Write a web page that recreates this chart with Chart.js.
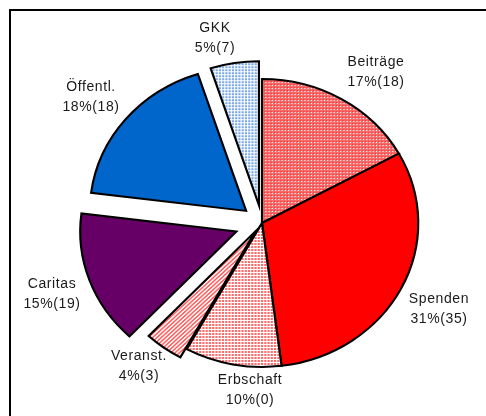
<!DOCTYPE html>
<html>
<head>
<meta charset="utf-8">
<script src="https://cdn.jsdelivr.net/npm/chart.js@4/dist/chart.umd.min.js"></script>
<style>
  html, body { margin: 0; padding: 0; background: #fff; }
  #wrap { width: 486px; height: 416px; position: relative; }
</style>
</head>
<body>
<div id="wrap"><canvas id="c" width="486" height="416"></canvas></div>
<script>
// ---- data ----
const categories = ['Beiträge', 'Spenden', 'Erbschaft', 'Veranst.', 'Caritas', 'Öffentl.', 'GKK'];
const percents   = [17, 31, 10, 4, 15, 18, 5];
const counts     = [18, 35, 0, 3, 19, 18, 7];

// ---- styling ----
const explode = [0, 0, 0, 10, 25, 19, 18];
const labelPos = [
  [376, 62], [439, 299], [250, 380], [139, 356], [52, 284], [91, 87], [215, 28]
];

function makePattern(size, drawFn) {
  const c = document.createElement('canvas');
  c.width = size; c.height = size;
  const x = c.getContext('2d');
  drawFn(x);
  return document.getElementById('c').getContext('2d').createPattern(c, 'repeat');
}
const patBeitraege = makePattern(3, x => {
  x.fillStyle = '#f76a6a'; x.fillRect(0, 0, 3, 3);
  x.fillStyle = '#ffffff'; x.fillRect(1, 1, 1, 1);
  x.fillStyle = '#ff3030'; x.fillRect(0, 0, 1, 1);
});
const patErbschaft = makePattern(3, x => {
  x.fillStyle = '#ffffff'; x.fillRect(0, 0, 3, 3);
  x.fillStyle = '#ff6a6a'; x.fillRect(0, 0, 2, 2);
});
const patVeranst = makePattern(4, x => {
  x.fillStyle = '#ffffff'; x.fillRect(0, 0, 4, 4);
  x.fillStyle = '#ff5a5a';
  for (let i = 0; i < 4; i++) { x.fillRect(3 - i, i, 1, 1); x.fillRect((4 - i) % 4, i, 1, 1); }
});
const patGKK = makePattern(3, x => {
  x.fillStyle = '#ffffff'; x.fillRect(0, 0, 3, 3);
  x.fillStyle = '#7aa8e6'; x.fillRect(0, 0, 2, 2);
});
const fills = [patBeitraege, '#ff0000', patErbschaft, patVeranst, '#660066', '#0066cc', patGKK];

const SX = 1.085;
// Pie drawn slightly wider than tall, and exploded slices translated without growing.
const ellipsePlugin = {
  id: 'ellipse',
  beforeDatasetsDraw(chart) {
    const meta = chart.getDatasetMeta(0);
    const arc0 = meta.data[0];
    const ctx = chart.ctx;
    meta.data.forEach((el, i) => {
      if (!el._wrapped) {
        el._wrapped = true;
        const orig = el.draw;
        el.draw = function (c, area) {
          const d = explode[i] || 0;
          const mid = (this.startAngle + this.endAngle) / 2;
          c.save();
          c.translate(Math.cos(mid) * d, Math.sin(mid) * d);
          orig.call(this, c, area);
          c.restore();
        };
      }
    });
    ctx.save();
    ctx.translate(arc0.x, arc0.y);
    ctx.scale(SX, 1);
    ctx.translate(-arc0.x, -arc0.y);
  },
  afterDatasetsDraw(chart) { chart.ctx.restore(); }
};

const framePlugin = {
  id: 'frame',
  afterDraw(chart) {
    const ctx = chart.ctx;
    ctx.save();
    ctx.strokeStyle = '#000';
    ctx.lineWidth = 2;
    ctx.strokeRect(10, 10, 700, 700);
    ctx.restore();
  }
};

const labelPlugin = {
  id: 'lbls',
  afterDraw(chart) {
    const ctx = chart.ctx;
    ctx.save();
    ctx.fillStyle = '#1a1a1a';
    ctx.font = '14px "Liberation Sans", Arial, sans-serif';
    try { ctx.letterSpacing = '0.6px'; } catch (e) {}
    ctx.textAlign = 'center';
    ctx.textBaseline = 'middle';
    categories.forEach((name, i) => {
      const [x, y] = labelPos[i];
      ctx.fillText(name, x, y);
      ctx.fillText(percents[i] + '%(' + counts[i] + ')', x, y + 20);
    });
    ctx.restore();
  }
};

new Chart(document.getElementById('c'), {
  type: 'pie',
  data: {
    labels: categories,
    datasets: [{
      data: percents,
      backgroundColor: fills,
      borderColor: '#000000',
      borderWidth: 2,
      borderJoinStyle: 'miter',
      offset: 0
    }]
  },
  options: {
    responsive: false,
    devicePixelRatio: 1,
    animation: false,
    events: [],
    radius: 144,
    layout: { padding: { left: 38, right: 0, top: 30, bottom: 0 } },
    plugins: { legend: { display: false }, tooltip: { enabled: false } }
  },
  plugins: [ellipsePlugin, framePlugin, labelPlugin]
});
</script>
</body>
</html>
